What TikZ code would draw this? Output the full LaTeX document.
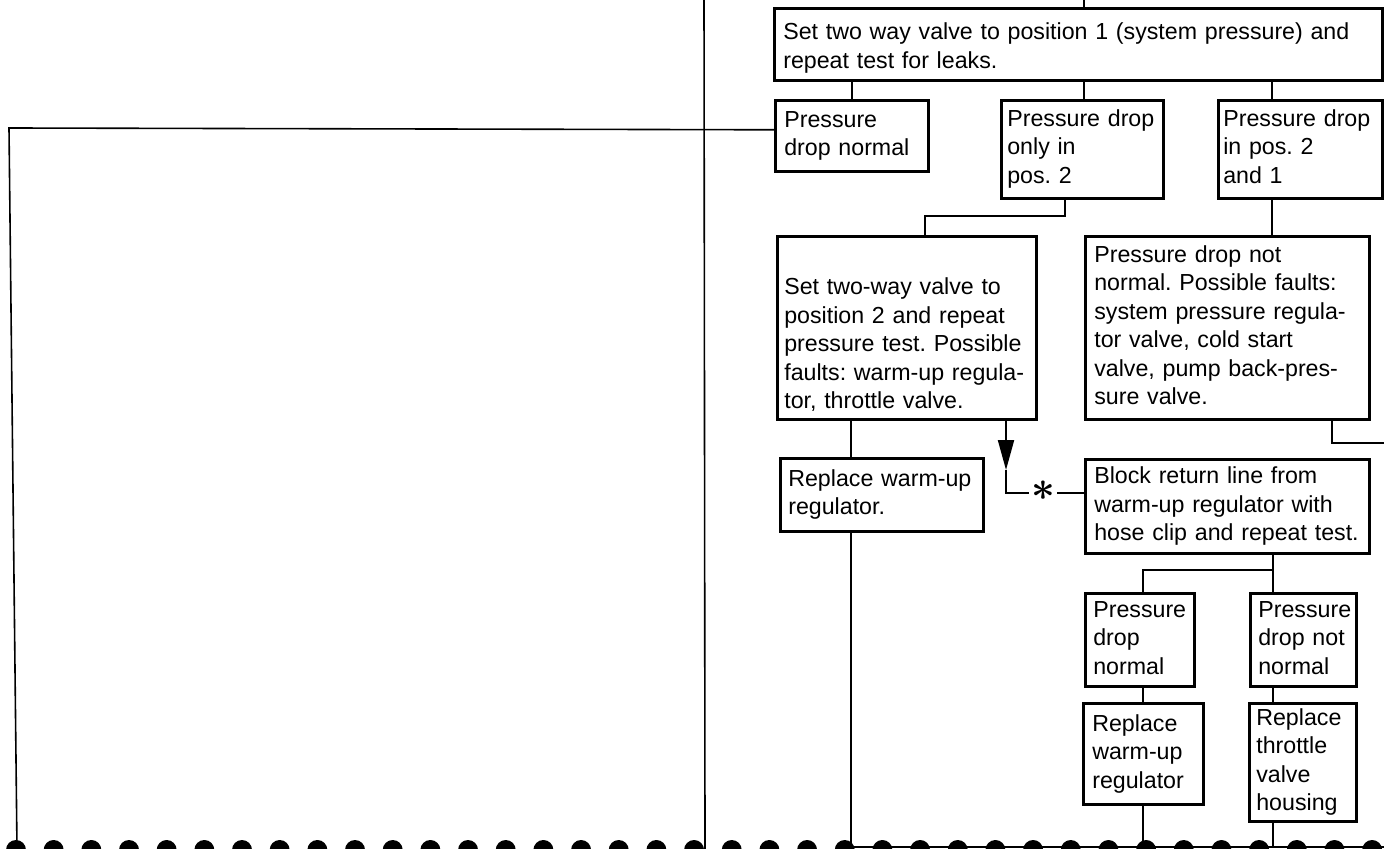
\documentclass[tikz,border=0pt]{standalone}
\usepackage{fontspec}
\usepackage{bm}
\setmainfont{Liberation Sans}
\usetikzlibrary{arrows.meta}

\newcommand{\chartfont}{\fontsize{11.6}{14.25}\selectfont\frenchspacing\hyphenpenalty=10000\exhyphenpenalty=10000}

\begin{document}
\begin{tikzpicture}[x=0.5pt,y=-0.5pt,
    box/.style={draw,line width=1.3pt,anchor=north west,align=left,
      inner xsep=4.5pt,inner ysep=0pt,font=\chartfont,
      execute at begin node=\strut,execute at end node=\strut},
    link/.style={line width=1pt},
    rail/.style={line width=0.8pt}]
  \useasboundingbox (0,0) rectangle (1384,849);

  \node[box,text width=295pt,minimum height=36pt] (T) at (773,7)
    {\rule{0pt}{14pt}Set two way valve to position 1 (system pressure) and\\repeat test for leaks.};
  \node[box,text width=67.5pt,minimum height=35.5pt] (A) at (774,99)
    {Pressure\\drop normal};
  \node[box,inner xsep=3pt,text width=75pt,minimum height=49pt] (B) at (1000,99)
    {Pressure drop\\only in\\pos. 2};
  \node[box,inner xsep=2.5pt,text width=77pt,minimum height=49pt] (C) at (1217,99)
    {Pressure drop\\in pos. 2\\and 1};
  \node[box,inner xsep=3.5pt,text width=122.5pt,minimum height=91.5pt] (D) at (776,235)
    {\rule{0pt}{28pt}Set two-way valve to\\position 2 and repeat\\pressure test. Possible\\faults: warm-up regula-\\tor, throttle valve.};
  \node[box,text width=133pt,minimum height=91.5pt] (E) at (1084,235)
    {Pressure drop not\\normal. Possible faults:\\system pressure regula-\\tor valve, cold start\\valve, pump back-pres-\\sure valve.};
  \node[box,inner xsep=4pt,text width=93.5pt,minimum height=36.5pt] (F) at (779,457)
    {Replace warm-up\\regulator.};
  \node[box,text width=133pt,minimum height=47pt] (G) at (1084,458)
    {Block return line from\\warm-up regulator with\\hose clip and repeat test.};
  \node[box,inner xsep=4pt,text width=46.5pt,minimum height=46.5pt] (H) at (1084,592)
    {Pressure\\drop\\normal};
  \node[box,inner xsep=4pt,text width=45pt,minimum height=46.5pt] (I) at (1249,592)
    {Pressure\\drop not\\normal};
  \node[box,text width=51pt,minimum height=50.5pt] (J) at (1082,702)
    {Replace\\warm-up\\regulator};
  \node[box,inner xsep=3.5pt,text width=46.5pt,minimum height=59pt] (K) at (1248,702)
    {Replace\\throttle\\valve\\housing};

  \coordinate (mtop) at (704,0);
  \coordinate (mfoot) at (705,849);
  \coordinate (lcorner) at (9,128);
  \coordinate (lfoot) at (17,849);
  \coordinate (ttop) at (1084,0);
  \coordinate (cx) at (1272,0);
  \coordinate (bd) at (1065,216);
  \coordinate (db) at (925,216);
  \coordinate (fx) at (851,0);
  \coordinate (ex) at (1332,443);
  \coordinate (eout) at (1384,443);
  \coordinate (arrtip) at (1006,470);
  \coordinate (bend) at (1006,493);
  \coordinate (gy) at (1273,570);
  \coordinate (hy) at (1143,570);
  \coordinate (fbot) at (851,847);
  \coordinate (rbot) at (1384,847);

  \node[font=\fontsize{22}{22}\selectfont,inner sep=1pt] (star) at (1043,491) {$\bm{\ast}$};

  \draw[rail] (mtop) -- (mfoot);
  \draw[rail] ([yshift=3pt]A.west) -- (lcorner) -- (lfoot);
  \draw[link] (ttop) -- (T.north -| ttop);
  \draw[link] (T.south -| A.north) -- (A.north);
  \draw[link] (T.south -| ttop) -- (B.north -| ttop);
  \draw[link] (T.south -| cx) -- (C.north -| cx);
  \draw[link] (B.south -| bd) -- (bd) -- (db) -- (D.north -| db);
  \draw[link] (C.south -| cx) -- (E.north -| cx);
  \draw[link] (D.south -| fx) -- (F.north -| fx);
  \draw[link] (E.south -| ex) -- (ex) -- (eout);
  \draw[link,-{Triangle[length=15pt,width=8pt]}] (D.south -| bend) -- (arrtip);
  \draw[link] (arrtip) -- (bend) -- (star.west |- bend);
  \draw[link] (star.east |- bend) -- (G.west |- bend);
  \draw[link] (G.south -| gy) -- (I.north -| gy);
  \draw[link] (gy) -- (hy) -- (H.north -| hy);
  \draw[link] (H.south -| hy) -- (J.north -| hy);
  \draw[link] (I.south -| gy) -- (K.north -| gy);
  \draw[link] (F.south -| fx) -- (fbot) -- (rbot);
  \draw[link] (J.south -| hy) -- (hy |- fbot);
  \draw[link] (K.south -| gy) -- (gy |- fbot);

  % binding holes along the bottom edge
  \foreach \i in {0,...,36}
    \fill (16+37.67*\i,850) circle (5pt);
\end{tikzpicture}
\end{document}
